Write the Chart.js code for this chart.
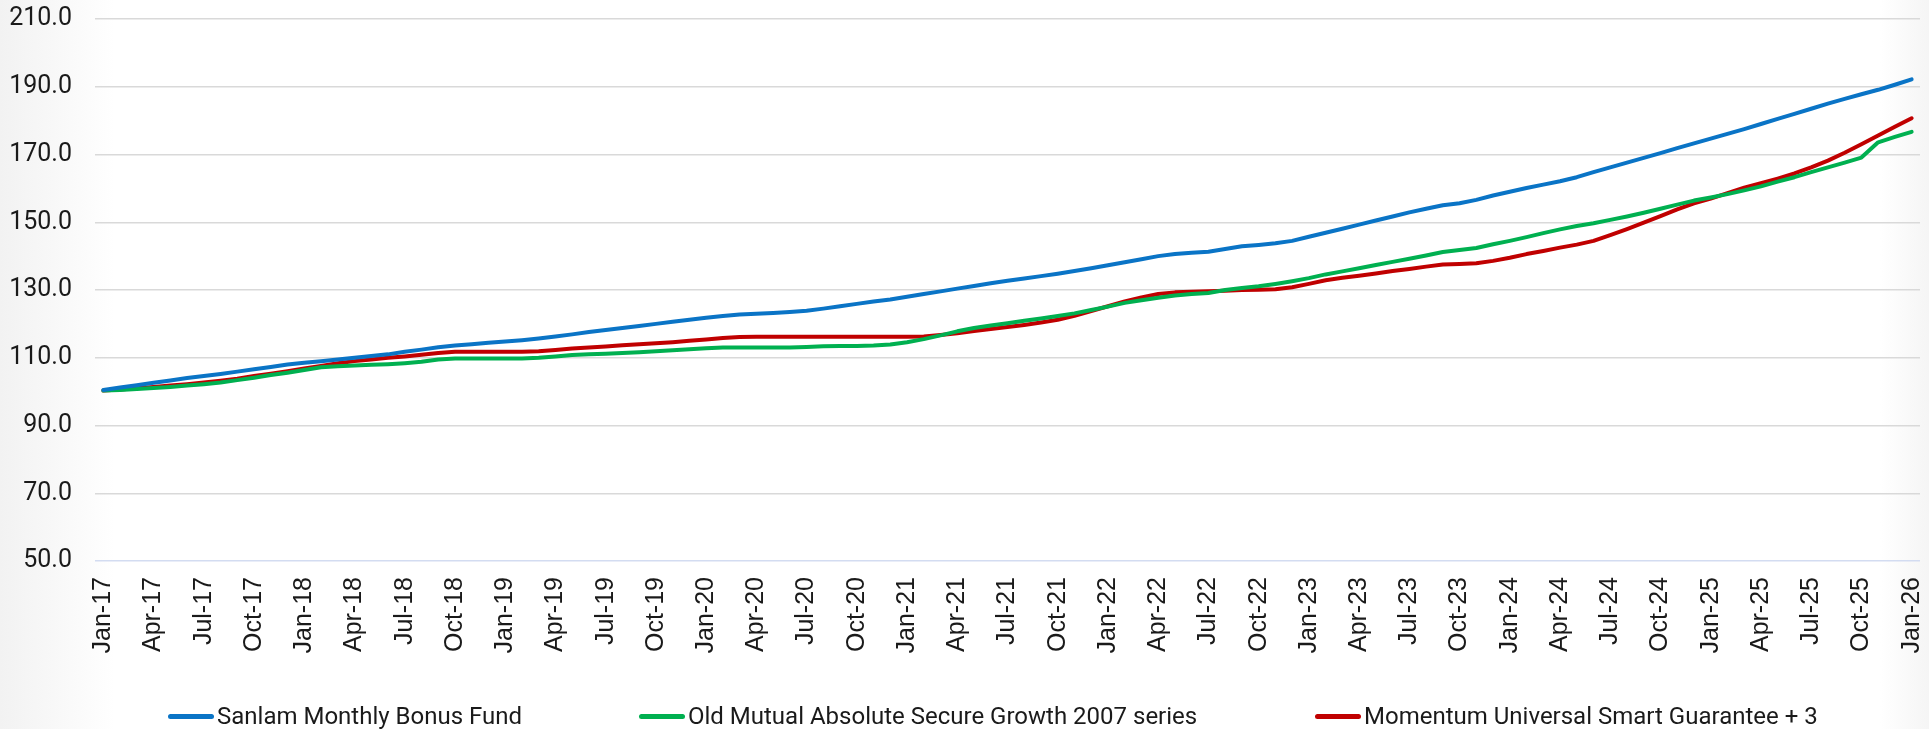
<!DOCTYPE html>
<html>
<head>
<meta charset="utf-8">
<script src="https://cdn.jsdelivr.net/npm/chart.js@4.4.1/dist/chart.umd.min.js"></script>
<style>
  html, body { margin: 0; padding: 0; overflow: hidden; }
  body {
    width: 1929px; height: 729px; position: relative;
    background: linear-gradient(to right, #f2f2f2 0px, #ffffff 115px, #ffffff 1880px, #f5f5f5 1929px);
  }
  #c { position: absolute; left: 0; top: 0; }
  .lg { position: absolute; top: 701px; height: 30px; display: flex; align-items: center; white-space: nowrap; }
  .lg .sw { width: 46px; height: 5px; border-radius: 3px; margin-right: 3px; flex: none; }
  .lg .tx { font-family: Roboto, "Liberation Sans", sans-serif; font-size: 24px; color: #1a1a1a; }
</style>
</head>
<body>
<canvas id="c" width="1929" height="729"></canvas>
<div id="legend"></div>
<script>
// ---- DATA ----
const categories = [
  'Jan-17','Feb-17','Mar-17','Apr-17','May-17','Jun-17','Jul-17','Aug-17','Sep-17','Oct-17','Nov-17','Dec-17',
  'Jan-18','Feb-18','Mar-18','Apr-18','May-18','Jun-18','Jul-18','Aug-18','Sep-18','Oct-18','Nov-18','Dec-18',
  'Jan-19','Feb-19','Mar-19','Apr-19','May-19','Jun-19','Jul-19','Aug-19','Sep-19','Oct-19','Nov-19','Dec-19',
  'Jan-20','Feb-20','Mar-20','Apr-20','May-20','Jun-20','Jul-20','Aug-20','Sep-20','Oct-20','Nov-20','Dec-20',
  'Jan-21','Feb-21','Mar-21','Apr-21','May-21','Jun-21','Jul-21','Aug-21','Sep-21','Oct-21','Nov-21','Dec-21',
  'Jan-22','Feb-22','Mar-22','Apr-22','May-22','Jun-22','Jul-22','Aug-22','Sep-22','Oct-22','Nov-22','Dec-22',
  'Jan-23','Feb-23','Mar-23','Apr-23','May-23','Jun-23','Jul-23','Aug-23','Sep-23','Oct-23','Nov-23','Dec-23',
  'Jan-24','Feb-24','Mar-24','Apr-24','May-24','Jun-24','Jul-24','Aug-24','Sep-24','Oct-24','Nov-24','Dec-24',
  'Jan-25','Feb-25','Mar-25','Apr-25','May-25','Jun-25','Jul-25','Aug-25','Sep-25','Oct-25','Nov-25','Dec-25',
  'Jan-26'
];

const seriesNames = [
  'Sanlam Monthly Bonus Fund',
  'Old Mutual Absolute Secure Growth 2007 series',
  'Momentum Universal Smart Guarantee + 3'
];

const sanlam = [
  100.5, 101.2, 101.9, 102.6, 103.3, 104.0, 104.6, 105.2, 105.9, 106.6, 107.3, 108.0,
  108.5, 109.0, 109.5, 110.0, 110.5, 111.0, 111.8, 112.4, 113.1, 113.6, 114.0, 114.4,
  114.8, 115.2, 115.7, 116.3, 116.9, 117.6, 118.2, 118.8, 119.4, 120.0, 120.6, 121.2,
  121.8, 122.3, 122.8, 123.0, 123.2, 123.5, 123.9, 124.5, 125.2, 125.9, 126.6, 127.2,
  128.0, 128.8, 129.6, 130.4, 131.2, 132.0, 132.7, 133.4, 134.1, 134.8, 135.6, 136.4,
  137.3, 138.2, 139.1, 140.0, 140.6, 141.0, 141.3, 142.1, 142.9, 143.3, 143.8, 144.5,
  145.7, 146.9, 148.1, 149.3, 150.5, 151.7, 152.9, 154.0, 155.0, 155.6, 156.6, 157.9,
  159.0, 160.1, 161.1, 162.1, 163.3, 164.8, 166.2, 167.6, 169.0, 170.4, 171.9, 173.3,
  174.7, 176.1, 177.5, 179.0, 180.5, 182.0, 183.5, 185.0, 186.4, 187.8, 189.1, 190.6,
  192.2
];

const oldMutual = [
  100.3, 100.5, 100.8, 101.1, 101.4, 101.8, 102.2, 102.7, 103.4, 104.1, 104.9, 105.6,
  106.4, 107.2, 107.5, 107.7, 107.9, 108.1, 108.4, 108.8, 109.5, 109.8, 109.8, 109.8,
  109.8, 109.8, 110.0, 110.4, 110.8, 111.0, 111.2, 111.4, 111.6, 111.9, 112.2, 112.5,
  112.8, 113.0, 113.0, 113.0, 113.0, 113.0, 113.2, 113.4, 113.5, 113.5, 113.6, 113.9,
  114.6, 115.5, 116.6, 117.8, 118.8, 119.5, 120.2, 120.9, 121.6, 122.3, 123.1, 124.1,
  125.1, 126.2, 127.0, 127.7, 128.4, 128.8, 129.1, 130.0, 130.6, 131.1, 131.8, 132.6,
  133.5, 134.6, 135.5, 136.4, 137.4, 138.3, 139.2, 140.2, 141.2, 141.8, 142.4, 143.5,
  144.5, 145.6, 146.8, 147.9, 148.9, 149.7, 150.7, 151.7, 152.8, 154.0, 155.2, 156.4,
  157.3, 158.3, 159.4, 160.6, 162.0, 163.3, 164.8, 166.2, 167.6, 169.1, 173.6, 175.2,
  176.7
];

const momentum = [
  100.3, 100.6, 101.0, 101.4, 101.8, 102.2, 102.7, 103.2, 103.8, 104.6, 105.3, 106.0,
  106.8, 107.6, 108.4, 109.0, 109.5, 110.0, 110.4, 110.9, 111.4, 111.8, 111.8, 111.8,
  111.8, 111.8, 111.9, 112.3, 112.7, 113.0, 113.3, 113.7, 114.0, 114.3, 114.6, 115.0,
  115.4, 115.8, 116.1, 116.2, 116.2, 116.2, 116.2, 116.2, 116.2, 116.2, 116.2, 116.2,
  116.2, 116.3, 116.7, 117.2, 117.9, 118.5, 119.1, 119.7, 120.4, 121.2, 122.4, 123.8,
  125.2, 126.6, 127.8, 128.8, 129.3, 129.5, 129.6, 129.8, 130.0, 130.1, 130.2, 130.8,
  131.8, 132.9, 133.6, 134.2, 134.9, 135.6, 136.2, 136.9, 137.5, 137.7, 137.9, 138.6,
  139.5, 140.6, 141.5, 142.5, 143.4, 144.5, 146.2, 148.0, 149.9, 151.8, 153.8, 155.6,
  157.0, 158.6, 160.2, 161.5, 162.9, 164.4, 166.2, 168.2, 170.5, 173.0, 175.6, 178.2,
  180.7
];

const seriesColors = ['#0a74c6', '#00b050', '#c00000'];
const yTicks = { min: 50, max: 210, step: 20 };

// ---- CHART ----
const seriesData = [sanlam, oldMutual, momentum];
const datasets = seriesNames.map((name, i) => ({
  label: name,
  data: seriesData[i],
  borderColor: seriesColors[i],
  backgroundColor: seriesColors[i],
  borderWidth: 4,
  pointRadius: 0,
  pointHoverRadius: 0,
  tension: 0,
  borderCapStyle: 'round',
  borderJoinStyle: 'round',
  fill: false
}));

new Chart(document.getElementById('c'), {
  type: 'line',
  data: { labels: categories, datasets },
  options: {
    responsive: false,
    animation: false,
    devicePixelRatio: 1,
    layout: { padding: { top: 19, right: 9, bottom: 0, left: 0 } },
    plugins: { legend: { display: false }, tooltip: { enabled: false } },
    scales: {
      x: {
        type: 'category',
        offset: true,
        grid: { display: false, drawTicks: false },
        border: { display: false },
        ticks: {
          autoSkip: false,
          maxRotation: 90,
          minRotation: 90,
          padding: 16,
          color: '#1a1a1a',
          font: { family: '"Liberation Sans", Arial, sans-serif', size: 25 },
          callback: function (v, i) { return i % 3 === 0 ? categories[i] : ''; }
        },
        afterFit: function (s) {
          s.height = 168;
          s.paddingLeft = 0; s.paddingRight = 0; s.paddingTop = 0; s.paddingBottom = 0;
        }
      },
      y: {
        min: yTicks.min,
        max: yTicks.max,
        grid: {
          drawTicks: false,
          lineWidth: 1.5,
          color: ctx => ctx.tick && ctx.tick.value === yTicks.min ? '#d3dcf1' : '#d9d9d9'
        },
        border: { display: false },
        ticks: {
          stepSize: yTicks.step,
          padding: 23,
          color: '#1a1a1a',
          font: { family: 'Roboto, sans-serif', size: 25 },
          callback: v => Number(v).toFixed(1)
        },
        afterFit: function (s) {
          s.width = 95;
          s.paddingLeft = 0; s.paddingRight = 0; s.paddingTop = 0; s.paddingBottom = 0;
        }
      }
    }
  }
});

// ---- HTML legend ----
const legendLeft = [168, 639, 1315];
const lg = document.getElementById('legend');
seriesNames.forEach((name, i) => {
  const d = document.createElement('div');
  d.className = 'lg';
  d.style.left = legendLeft[i] + 'px';
  const sw = document.createElement('span');
  sw.className = 'sw';
  sw.style.background = seriesColors[i];
  const tx = document.createElement('span');
  tx.className = 'tx';
  tx.textContent = name;
  d.appendChild(sw); d.appendChild(tx);
  lg.appendChild(d);
});
</script>
</body>
</html>
